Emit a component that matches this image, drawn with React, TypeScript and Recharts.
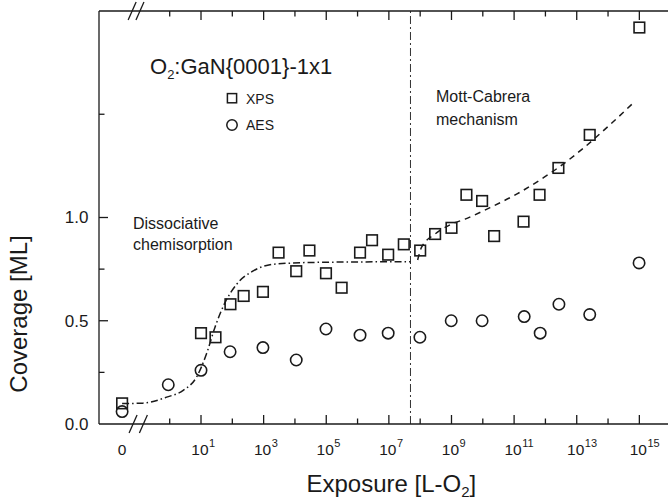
import { ComposedChart, Scatter, Line, XAxis, YAxis, ReferenceLine } from 'recharts';

// exposure in Langmuir (0 = clean surface, drawn left of the axis break)
const xpsExposure = [0, 10, 29, 87, 230, 950, 3.0e3, 1.1e4, 2.9e4, 9.8e4, 3.1e5, 1.2e6, 2.9e6, 9.5e6, 3.0e7, 1.0e8, 3.0e8, 1.0e9, 3.0e9, 9.5e9, 2.3e10, 2.0e11, 6.5e11, 2.6e12, 2.6e13, 1.0e15];
const xpsCoverage = [0.10, 0.44, 0.42, 0.58, 0.62, 0.64, 0.83, 0.74, 0.84, 0.73, 0.66, 0.83, 0.89, 0.82, 0.87, 0.84, 0.92, 0.95, 1.11, 1.08, 0.91, 0.98, 1.11, 1.24, 1.40, 1.92];

const aesExposure = [0, 0.9, 10, 85, 950, 1.1e4, 9.8e4, 1.2e6, 9.5e6, 9.8e7, 9.8e8, 9.5e9, 2.1e11, 6.8e11, 2.7e12, 2.6e13, 9.8e14];
const aesCoverage = [0.06, 0.19, 0.26, 0.35, 0.37, 0.31, 0.46, 0.43, 0.44, 0.42, 0.50, 0.50, 0.52, 0.44, 0.58, 0.53, 0.78];

// fit curves
const chemFitExposure = [0, 0.14, 0.8, 2.7, 7.2, 15, 28, 59, 140, 470, 2600, 6.3e4, 4.9e7];
const chemFitCoverage = [0.099, 0.101, 0.13, 0.163, 0.227, 0.34, 0.469, 0.589, 0.678, 0.742, 0.775, 0.783, 0.786];
const mottFitExposure = [8.3e7, 1.1e8, 3.0e8, 1.0e9, 2.7e9, 1.7e10, 1.2e11, 8.7e11, 2.6e12, 1.7e13, 9.1e13, 7.4e14];
const mottFitCoverage = [0.794, 0.855, 0.92, 0.968, 0.992, 1.048, 1.113, 1.193, 1.242, 1.338, 1.435, 1.564];

const regimeBoundary = 4.9e7;

const decadeTicks = [0, 1, 2, 3, 4, 5, 6, 7, 8, 9, 10, 11, 12, 13, 14, 15];
const yTicks = [0.25, 0.5, 0.75, 1.0, 1.5];
const yLabels = [0, 0.5, 1.0];

const ZERO_POS = -1.52;
const BOTTOM_BREAK = [-1.17, -0.84];
const TOP_BREAK = [-1.2, -0.95];
const X_DOMAIN: [number, number] = [-2.258, 15.915];
const Y_MAX = 2;

// pixels -> data units (plot is 569 x 413 px)
const PX_X = (X_DOMAIN[1] - X_DOMAIN[0]) / 569;
const PX_Y = Y_MAX / 413;

const FONT = '"Liberation Sans", Arial, Helvetica, sans-serif';
const INK = '#1a1a1a';

const pos = (e: number) => (e === 0 ? ZERO_POS : Math.log10(e));
const toPoints = (xs: number[], ys: number[]) => xs.map((e, i) => ({ x: pos(e), y: ys[i] }));

const xpsData = toPoints(xpsExposure, xpsCoverage);
const aesData = toPoints(aesExposure, aesCoverage);
const chemFit = toPoints(chemFitExposure, chemFitCoverage);
const mottFit = toPoints(mottFitExposure, mottFitCoverage);

const SquareMark = (p: any) => (
  <rect x={p.cx - 5.3} y={p.cy - 5.3} width={10.6} height={10.6} fill="none" stroke={INK} strokeWidth={1.6} />
);
const CircleMark = (p: any) => <circle cx={p.cx} cy={p.cy} r={5.7} fill="none" stroke={INK} strokeWidth={1.6} />;

const BottomTick = (p: any) => {
  const v = p.payload.value;
  if (v === ZERO_POS) {
    return (
      <text x={p.x} y={p.y + 31.3} textAnchor="middle" fontSize={15.5} fontFamily={FONT} fill={INK}>0</text>
    );
  }
  if (v % 2 !== 1) return <g />;
  return (
    <text x={p.x - 9.7} y={p.y + 31.3} fontSize={15.5} fontFamily={FONT} fill={INK}>
      10<tspan dx={0.5} dy={-8.5} fontSize={11}>{v}</tspan>
    </text>
  );
};

const LeftTick = (p: any) => {
  const v = p.payload.value;
  if (!yLabels.includes(v)) return <g />;
  return (
    <text x={p.x - 10.5} y={p.y + 5.8} textAnchor="end" fontSize={17} fontFamily={FONT} fill={INK}>
      {v.toFixed(1)}
    </text>
  );
};

const slash = (cx: number, cy: number) => [
  { x: cx - 4 * PX_X, y: cy - 9 * PX_Y },
  { x: cx + 4 * PX_X, y: cy + 9 * PX_Y },
];

const tickLen = (major: boolean) => (major ? 9 : 5.5);

export default function App() {
  return (
    <div style={{ position: 'absolute', left: 0, top: 0, width: 668, height: 504, background: '#fff' }}>
      <ComposedChart width={668} height={504} margin={{ top: 0, right: 0, left: 39, bottom: 50 }}>
        <XAxis
          type="number"
          dataKey="x"
          domain={X_DOMAIN}
          ticks={[ZERO_POS, ...decadeTicks]}
          interval={0}
          tick={BottomTick}
          tickLine={false}
          tickSize={0}
          tickMargin={0}
          height={30}
          allowDataOverflow
          axisLine={{ stroke: INK, strokeWidth: 1.3 }}
        />
        <XAxis
          xAxisId="top"
          orientation="top"
          type="number"
          dataKey="x"
          domain={X_DOMAIN}
          tick={false}
          tickLine={false}
          height={11}
          allowDataOverflow
          axisLine={{ stroke: INK, strokeWidth: 1.3 }}
        />
        <YAxis
          type="number"
          dataKey="y"
          domain={[0, Y_MAX]}
          ticks={[0, ...yTicks]}
          interval={0}
          tick={LeftTick}
          tickLine={false}
          tickSize={0}
          tickMargin={0}
          width={60}
          allowDataOverflow
          axisLine={{ stroke: INK, strokeWidth: 1.3 }}
        />

        {/* inward tick marks */}
        {decadeTicks.map(d => (
          <ReferenceLine
            key={`bt${d}`}
            segment={[{ x: d, y: 0 }, { x: d, y: tickLen(d % 2 === 1) * PX_Y }]}
            ifOverflow="visible"
            stroke={INK}
            strokeWidth={1.3}
          />
        ))}
        {decadeTicks.map(d => (
          <ReferenceLine
            key={`tt${d}`}
            segment={[{ x: d, y: Y_MAX }, { x: d, y: Y_MAX - tickLen(d % 2 === 1) * PX_Y }]}
            ifOverflow="visible"
            stroke={INK}
            strokeWidth={1.3}
          />
        ))}
        {yTicks.map(v => (
          <ReferenceLine
            key={`yt${v}`}
            segment={[{ x: X_DOMAIN[0], y: v }, { x: X_DOMAIN[0] + tickLen(yLabels.includes(v)) * PX_X, y: v }]}
            ifOverflow="visible"
            stroke={INK}
            strokeWidth={1.3}
          />
        ))}

        {/* axis breaks */}
        {BOTTOM_BREAK.map(b => (
          <ReferenceLine key={`b${b}`} segment={slash(b, 0)} ifOverflow="visible" stroke={INK} strokeWidth={1.3} />
        ))}
        {TOP_BREAK.map(b => (
          <ReferenceLine key={`t${b}`} segment={slash(b, Y_MAX)} ifOverflow="visible" stroke={INK} strokeWidth={1.3} />
        ))}

        <ReferenceLine x={pos(regimeBoundary)} stroke="#333" strokeWidth={1} strokeDasharray="8 3 2 3" />

        <Line
          data={chemFit}
          dataKey="y"
          type="monotone"
          dot={false}
          stroke={INK}
          strokeWidth={1.5}
          strokeDasharray="7 3 1.5 3"
          isAnimationActive={false}
        />
        <Line
          data={mottFit}
          dataKey="y"
          type="monotone"
          dot={false}
          stroke={INK}
          strokeWidth={1.5}
          strokeDasharray="6 5"
          isAnimationActive={false}
        />
        <Scatter data={xpsData} dataKey="y" shape={SquareMark} isAnimationActive={false} />
        <Scatter data={aesData} dataKey="y" shape={CircleMark} isAnimationActive={false} />
      </ComposedChart>

      <svg width={668} height={504} style={{ position: 'absolute', left: 0, top: 0, pointerEvents: 'none' }} fontFamily={FONT} fill={INK}>
        <text x={150} y={73.5} fontSize={22}>
          O<tspan dy={5} fontSize={13}>2</tspan><tspan dy={-5}>:GaN{'{'}0001{'}'}-1x1</tspan>
        </text>
        <rect x={227.4} y={93.6} width={9.2} height={9.2} fill="none" stroke={INK} strokeWidth={1.5} />
        <text x={246} y={103.5} fontSize={14}>XPS</text>
        <circle cx={232} cy={125} r={5.2} fill="none" stroke={INK} strokeWidth={1.5} />
        <text x={246} y={130} fontSize={14}>AES</text>

        <text x={133} y={229} fontSize={16}>Dissociative</text>
        <text x={133} y={250} fontSize={16}>chemisorption</text>
        <text x={436} y={102} fontSize={16}>Mott-Cabrera</text>
        <text x={436} y={124.5} fontSize={16}>mechanism</text>

        <text x={306.5} y={491.5} fontSize={24}>
          Exposure [L-O<tspan dy={5} fontSize={15}>2</tspan><tspan dy={-5}>]</tspan>
        </text>
        <text transform="translate(27,314) rotate(-90)" textAnchor="middle" fontSize={24}>Coverage [ML]</text>
      </svg>
    </div>
  );
}
